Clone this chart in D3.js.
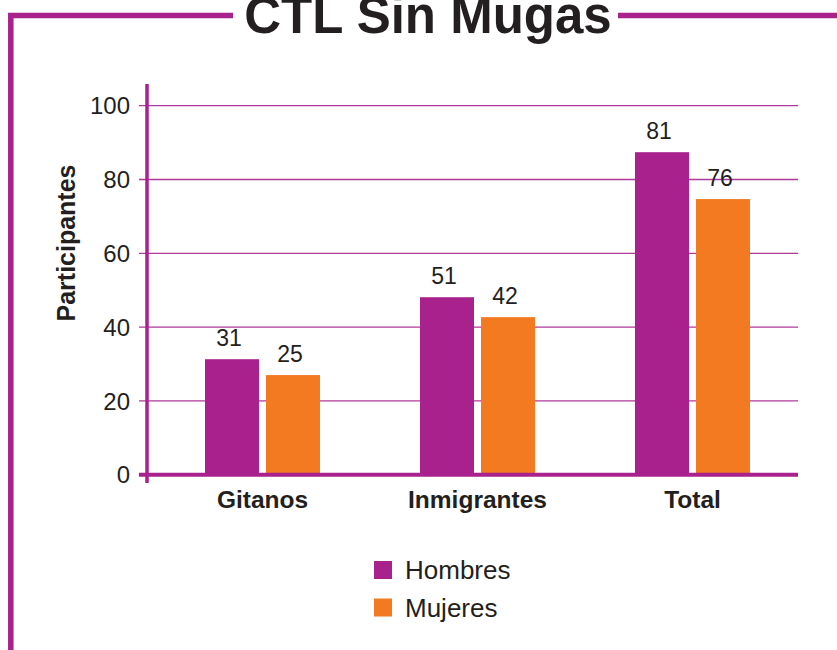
<!DOCTYPE html>
<html>
<head>
<meta charset="utf-8">
<script src="https://cdn.jsdelivr.net/npm/d3@7"></script>
<style>
	body { margin: 0; background: #fff; }
	text { font-family: "Liberation Sans", Arial, Helvetica, sans-serif; fill: #231f20; }
</style>
</head>
<body>
<div id="chart"></div>
<script>
const categories = ["Gitanos", "Inmigrantes", "Total"];
const series = ["Hombres", "Mujeres"];
// bar heights as drawn in the picture
const hombres = [31.3, 48.1, 87.4];
const mujeres = [27.0, 42.7, 74.7];
// value labels printed above the bars
const hombresLabels = ["31", "51", "81"];
const mujeresLabels = ["25", "42", "76"];
const yTicks = [0, 20, 40, 60, 80, 100];

const colors = ["#a8218d", "#f47a22"];
const frameColor = "#a8218d";

const width = 837;
const height = 650;

const svg = d3
	.select("#chart")
	.append("svg")
	.attr("width", width)
	.attr("height", height);

// frame round the chart
svg.append("path")
	.attr("d", "M10.8,650 L10.8,15.5 L233,15.5 M618,15.5 L837,15.5")
	.attr("fill", "none")
	.attr("stroke", frameColor)
	.attr("stroke-width", 5.5);

svg.append("text")
	.attr("x", 428)
	.attr("y", 33)
	.attr("text-anchor", "middle")
	.style("font-size", "51px")
	.style("font-weight", "bold")
	.text("CTL Sin Mugas");

const y = d3.scaleLinear().domain([0, 100]).range([474.7, 105.7]);

const x0 = d3.scaleBand().domain(categories).range([155, 800]).paddingInner(0.465).paddingOuter(0.2325);
const x1 = d3.scaleBand().domain(series).range([0, x0.bandwidth()]).paddingInner(0.115);

// grid lines
svg.append("g")
	.selectAll("line")
	.data(yTicks.filter((d) => d > 0))
	.enter()
	.append("line")
	.attr("x1", 139)
	.attr("x2", 798)
	.attr("y1", (d) => y(d))
	.attr("y2", (d) => y(d))
	.attr("stroke", "#b0389c")
	.attr("stroke-width", 1.3);

svg.append("g")
	.selectAll("text")
	.data(yTicks)
	.enter()
	.append("text")
	.attr("x", 130)
	.attr("y", (d) => y(d))
	.attr("dy", "0.36em")
	.attr("text-anchor", "end")
	.style("font-size", "24px")
	.text((d) => d);

const rows = categories.map((c, i) => ({
	category: c,
	values: [
		{ key: series[0], value: hombres[i], label: hombresLabels[i] },
		{ key: series[1], value: mujeres[i], label: mujeresLabels[i] }
	]
}));

const groups = svg
	.selectAll(".group")
	.data(rows)
	.enter()
	.append("g")
	.attr("class", "group")
	.attr("transform", (d) => `translate(${x0(d.category)},0)`);

groups.selectAll("rect")
	.data((d) => d.values)
	.enter()
	.append("rect")
	.attr("x", (d) => x1(d.key))
	.attr("y", (d) => y(d.value))
	.attr("width", x1.bandwidth())
	.attr("height", (d) => y(0) - y(d.value))
	.attr("fill", (d, i) => colors[i]);

groups.selectAll(".val")
	.data((d) => d.values)
	.enter()
	.append("text")
	.attr("class", "val")
	.attr("x", (d) => x1(d.key) + x1.bandwidth() / 2 - 3)
	.attr("y", (d) => y(d.value) - 13)
	.attr("text-anchor", "middle")
	.style("font-size", "23px")
	.text((d) => d.label);

// axes
svg.append("line")
	.attr("x1", 147)
	.attr("x2", 147)
	.attr("y1", 84)
	.attr("y2", 483)
	.attr("stroke", frameColor)
	.attr("stroke-width", 3.5);

svg.append("line")
	.attr("x1", 139)
	.attr("x2", 798)
	.attr("y1", y(0))
	.attr("y2", y(0))
	.attr("stroke", frameColor)
	.attr("stroke-width", 4);

svg.append("g")
	.selectAll("text")
	.data(categories)
	.enter()
	.append("text")
	.attr("x", (d) => x0(d) + x0.bandwidth() / 2)
	.attr("y", 508)
	.attr("text-anchor", "middle")
	.style("font-size", "24.5px")
	.style("font-weight", "bold")
	.text((d) => d);

svg.append("text")
	.attr("transform", "translate(75,243) rotate(-90)")
	.attr("text-anchor", "middle")
	.style("font-size", "25px")
	.style("font-weight", "bold")
	.text("Participantes");

// legend
const legend = svg
	.selectAll(".legend")
	.data(series)
	.enter()
	.append("g")
	.attr("class", "legend")
	.attr("transform", (d, i) => `translate(374,${561 + i * 37.5})`);

legend.append("rect")
	.attr("width", 18)
	.attr("height", 18)
	.attr("fill", (d, i) => colors[i]);

legend.append("text")
	.attr("x", 31)
	.attr("y", 18)
	.style("font-size", "26px")
	.text((d) => d);
</script>
</body>
</html>
